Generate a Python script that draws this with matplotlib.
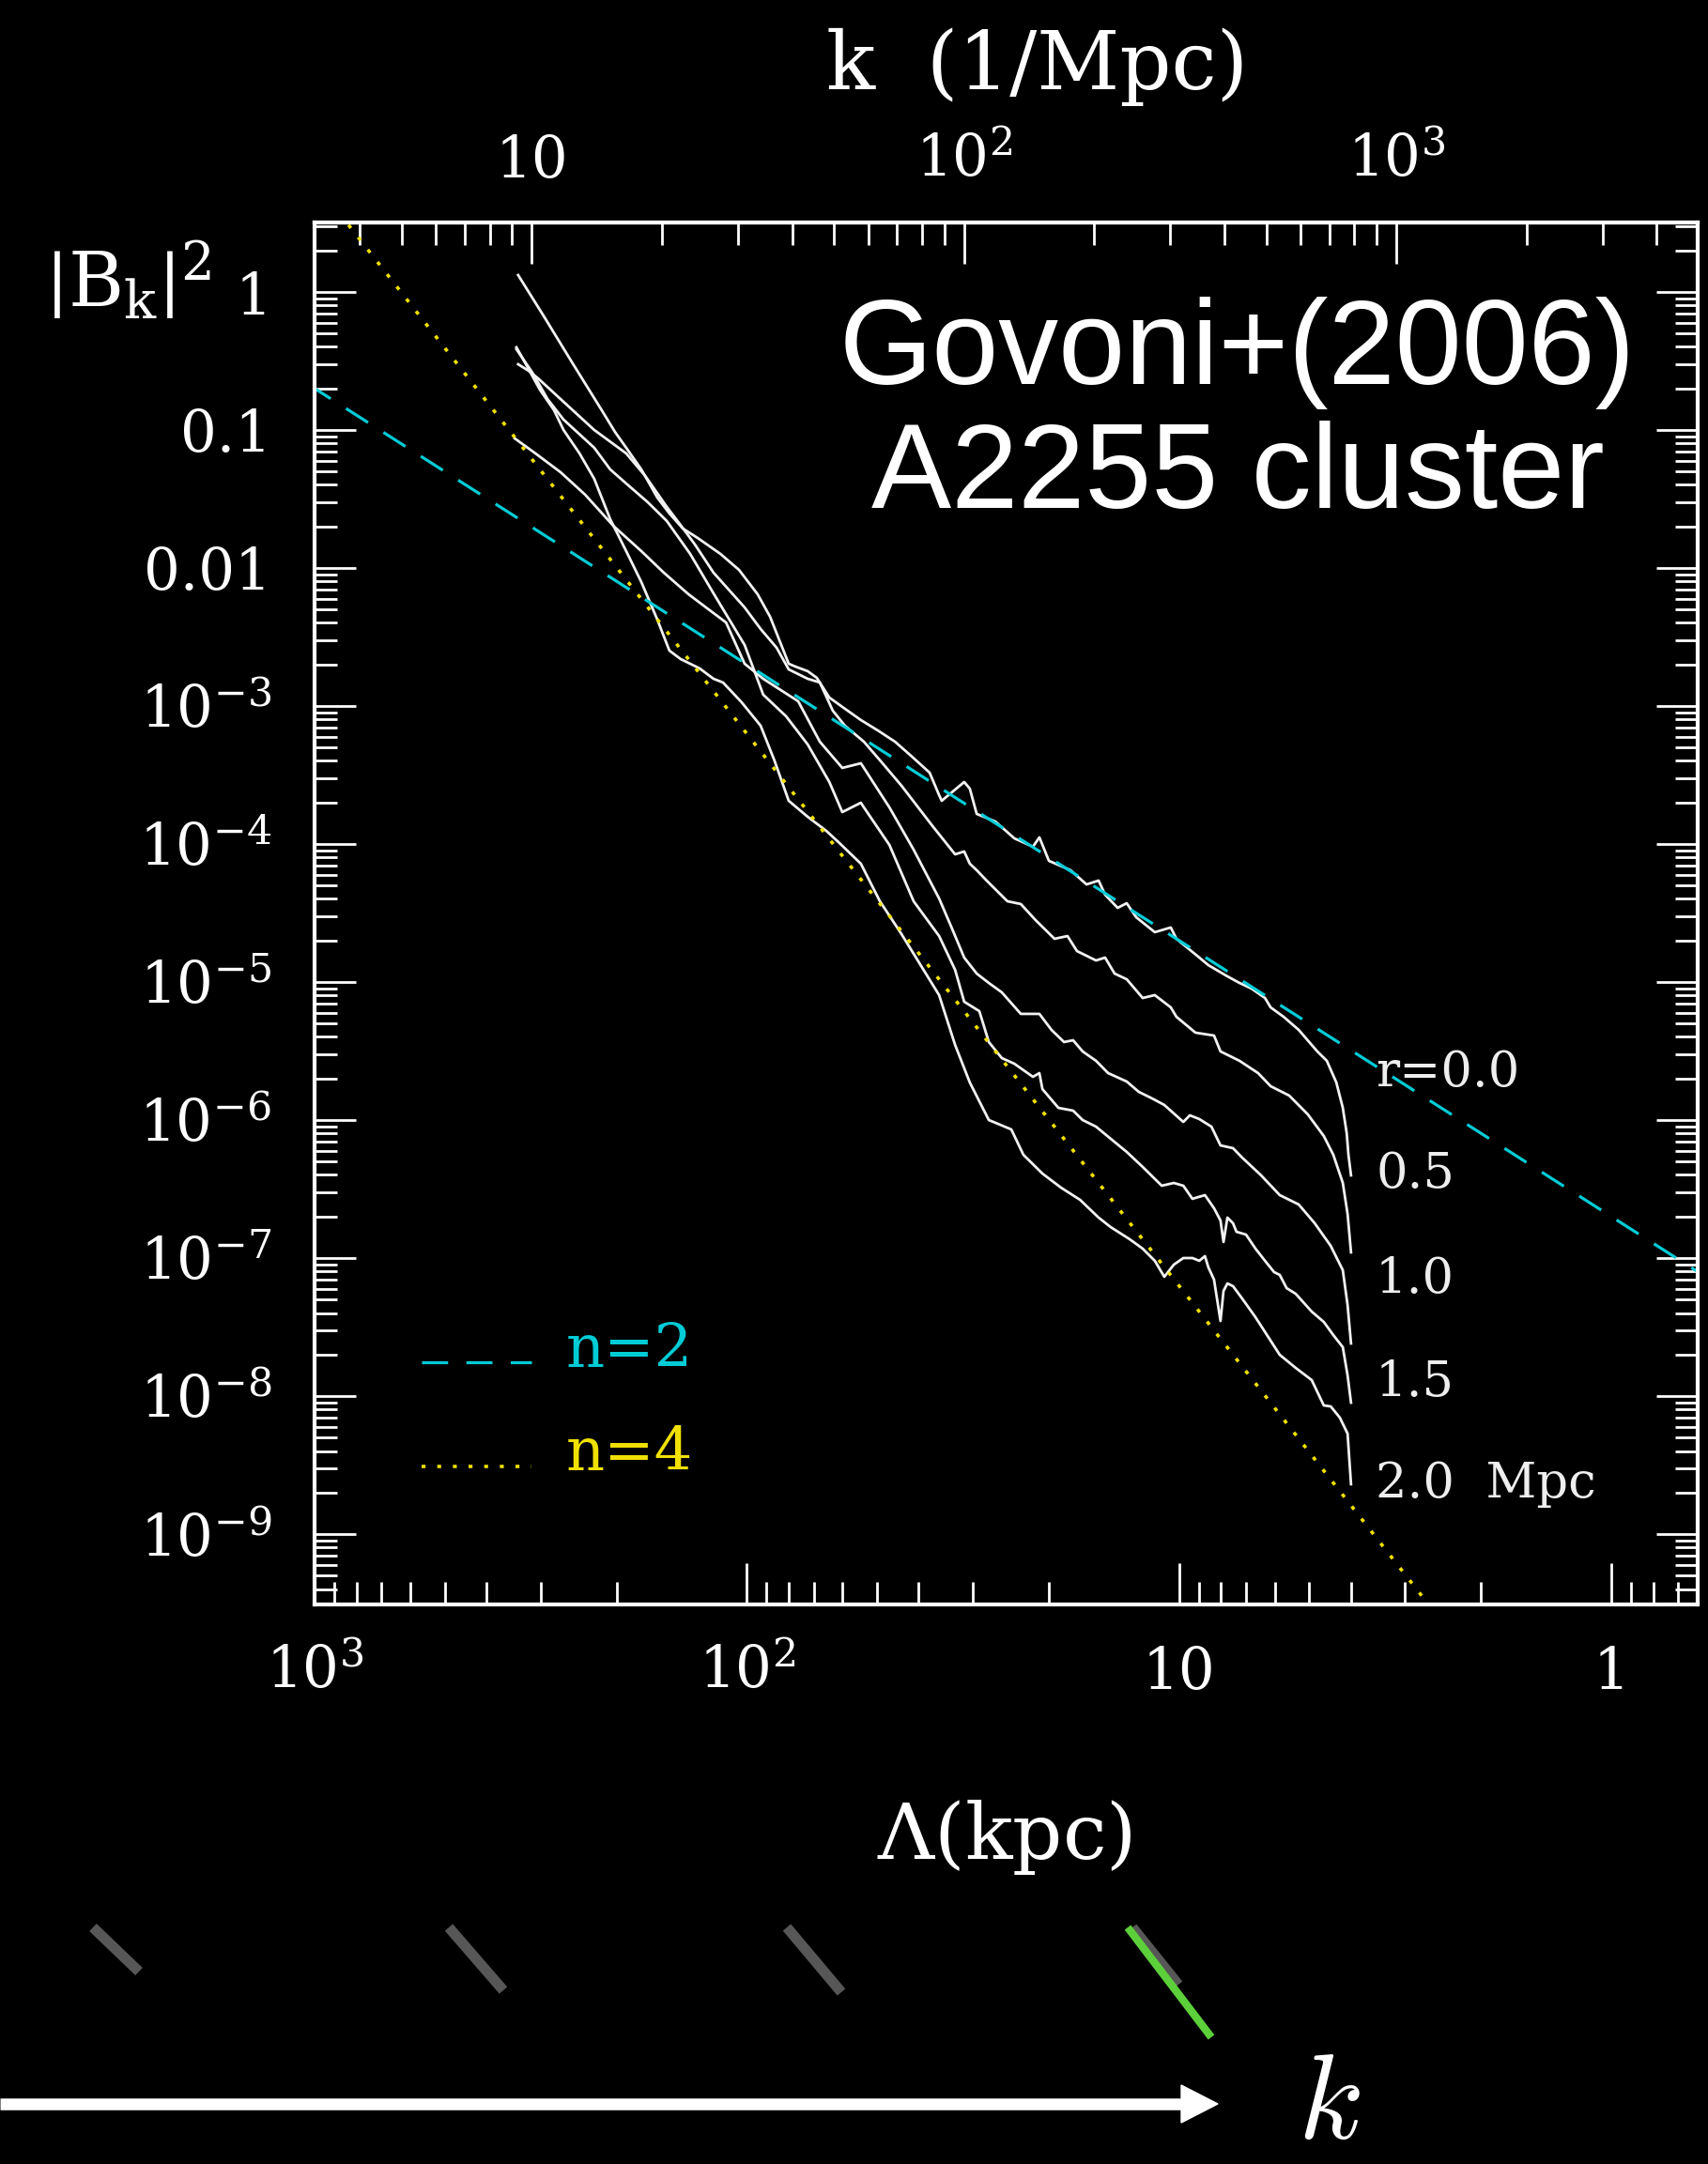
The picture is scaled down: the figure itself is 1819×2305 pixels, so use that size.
import numpy as np
import matplotlib
matplotlib.use('Agg')
import matplotlib.pyplot as plt
from matplotlib.lines import Line2D
from matplotlib.patches import Polygon
from matplotlib.ticker import FixedLocator, FixedFormatter, LogLocator, NullFormatter

plt.rcParams['font.family'] = ['DejaVu Serif']
plt.rcParams['mathtext.fontset'] = 'dejavuserif'
plt.rcParams['lines.scale_dashes'] = False

# radius of each simulated spectrum (Mpc)
radii = [0.0, 0.5, 1.0, 1.5, 2.0]
radius_labels = ['r=0.0', '0.5', '1.0', '1.5', '2.0  Mpc']

# spectra: log10 of scale Lambda (kpc) and log10 |B_k|^2
loglam_r00 = [2.529, 2.468, 2.403, 2.337, 2.305, 2.279, 2.244, 2.207, 2.179, 2.148,
              2.114, 2.061, 2.018, 1.975, 1.946, 1.903, 1.888, 1.859, 1.838, 1.809,
              1.773, 1.736, 1.697, 1.657, 1.620, 1.577, 1.555, 1.549, 1.497, 1.484,
              1.468, 1.425, 1.381, 1.338, 1.323, 1.301, 1.251, 1.214, 1.186, 1.171,
              1.142, 1.121, 1.099, 1.056, 1.019, 1.006, 0.953, 0.932, 0.888, 0.860,
              0.832, 0.801, 0.788, 0.758, 0.723, 0.680, 0.658, 0.636, 0.621, 0.612,
              0.608, 0.602]
logb_r00 = [0.122, -0.184, -0.517, -0.850, -1.014, -1.129, -1.286, -1.490, -1.605, -1.714,
            -1.782, -1.898, -2.014, -2.190, -2.354, -2.694, -2.714, -2.748, -2.796, -2.939,
            -3.020, -3.102, -3.177, -3.259, -3.361, -3.483, -3.646, -3.687, -3.551, -3.599,
            -3.782, -3.837, -3.959, -4.020, -3.952, -4.122, -4.190, -4.293, -4.265, -4.367,
            -4.463, -4.429, -4.531, -4.639, -4.605, -4.687, -4.823, -4.878, -4.959, -5.007,
            -5.048, -5.116, -5.184, -5.252, -5.347, -5.503, -5.571, -5.728, -5.912, -6.095,
            -6.252, -6.401]

loglam_r05 = [2.529, 2.505, 2.483, 2.424, 2.353, 2.279, 2.235, 2.185, 2.157, 2.120,
              2.077, 2.005, 1.968, 1.931, 1.903, 1.859, 1.831, 1.801, 1.773, 1.729,
              1.686, 1.642, 1.570, 1.518, 1.497, 1.484, 1.468, 1.447, 1.397, 1.366,
              1.332, 1.288, 1.258, 1.236, 1.192, 1.171, 1.149, 1.121, 1.084, 1.056,
              1.019, 1.006, 0.962, 0.919, 0.904, 0.860, 0.817, 0.788, 0.745, 0.702,
              0.665, 0.643, 0.621, 0.610, 0.602]
logb_r05 = [-0.524, -0.571, -0.626, -0.796, -1.000, -1.170, -1.333, -1.558, -1.673, -1.830,
            -2.034, -2.286, -2.442, -2.578, -2.735, -2.803, -2.830, -3.034, -3.143, -3.259,
            -3.415, -3.578, -3.871, -4.075, -4.054, -4.143, -4.190, -4.259, -4.415, -4.435,
            -4.551, -4.687, -4.667, -4.776, -4.844, -4.823, -4.939, -4.980, -5.116, -5.095,
            -5.184, -5.252, -5.367, -5.388, -5.503, -5.571, -5.660, -5.755, -5.823, -5.959,
            -6.116, -6.252, -6.456, -6.680, -6.959]

loglam_r10 = [2.537, 2.489, 2.431, 2.374, 2.309, 2.244, 2.192, 2.135, 2.077, 2.048,
              2.005, 1.962, 1.881, 1.831, 1.779, 1.736, 1.729, 1.670, 1.614, 1.555,
              1.527, 1.497, 1.468, 1.440, 1.410, 1.366, 1.323, 1.295, 1.266, 1.245,
              1.223, 1.192, 1.164, 1.121, 1.093, 1.062, 1.034, 0.990, 0.975, 0.953,
              0.925, 0.904, 0.875, 0.854, 0.810, 0.767, 0.723, 0.686, 0.649, 0.621,
              0.610, 0.602]
logb_r10 = [-1.061, -1.170, -1.306, -1.469, -1.694, -1.878, -2.034, -2.190, -2.327, -2.395,
            -2.694, -2.803, -2.966, -3.259, -3.449, -3.415, -3.449, -3.735, -4.041, -4.395,
            -4.599, -4.823, -4.939, -5.007, -5.075, -5.231, -5.231, -5.347, -5.435, -5.422,
            -5.503, -5.571, -5.660, -5.721, -5.796, -5.844, -5.891, -6.014, -5.966, -5.993,
            -6.048, -6.184, -6.204, -6.272, -6.401, -6.544, -6.612, -6.748, -6.912, -7.088,
            -7.340, -7.619]

loglam_r15 = [2.533, 2.496, 2.461, 2.424, 2.353, 2.316, 2.279, 2.229, 2.185, 2.131,
              2.077, 2.005, 1.962, 1.909, 1.859, 1.809, 1.779, 1.736, 1.729, 1.670,
              1.614, 1.555, 1.518, 1.497, 1.462, 1.440, 1.410, 1.381, 1.338, 1.323,
              1.316, 1.279, 1.245, 1.223, 1.192, 1.158, 1.121, 1.084, 1.040, 1.012,
              0.990, 0.969, 0.940, 0.919, 0.904, 0.897, 0.888, 0.875, 0.867, 0.845,
              0.823, 0.801, 0.780, 0.767, 0.751, 0.730, 0.693, 0.665, 0.643, 0.621,
              0.610, 0.602]
logb_r15 = [-0.415, -0.585, -0.776, -0.925, -1.129, -1.286, -1.388, -1.524, -1.660, -1.898,
            -2.184, -2.558, -2.918, -3.075, -3.279, -3.551, -3.769, -3.701, -3.735, -4.007,
            -4.415, -4.667, -4.912, -5.143, -5.211, -5.435, -5.551, -5.592, -5.687, -5.660,
            -5.776, -5.912, -5.932, -6.000, -6.048, -6.136, -6.231, -6.340, -6.476, -6.456,
            -6.476, -6.571, -6.544, -6.639, -6.728, -6.884, -6.707, -6.748, -6.810, -6.830,
            -6.932, -7.020, -7.102, -7.122, -7.218, -7.259, -7.388, -7.463, -7.558, -7.646,
            -7.850, -8.048]

loglam_r20 = [2.533, 2.511, 2.479, 2.446, 2.424, 2.387, 2.353, 2.316, 2.279, 2.244,
              2.207, 2.179, 2.153, 2.109, 2.077, 2.055, 2.012, 1.968, 1.936, 1.903,
              1.859, 1.816, 1.788, 1.736, 1.692, 1.642, 1.555, 1.518, 1.484, 1.440,
              1.388, 1.360, 1.316, 1.273, 1.229, 1.186, 1.158, 1.114, 1.084, 1.056,
              1.034, 1.012, 0.990, 0.969, 0.953, 0.940, 0.932, 0.919, 0.904, 0.897,
              0.888, 0.875, 0.854, 0.823, 0.795, 0.767, 0.730, 0.693, 0.665, 0.649,
              0.628, 0.610, 0.602]
logb_r20 = [-0.401, -0.524, -0.707, -0.857, -1.000, -1.170, -1.354, -1.646, -1.878, -2.102,
            -2.374, -2.599, -2.660, -2.728, -2.803, -2.830, -2.973, -3.143, -3.395, -3.687,
            -3.803, -3.905, -3.986, -4.143, -4.415, -4.653, -5.095, -5.456, -5.728, -6.000,
            -6.068, -6.252, -6.388, -6.490, -6.578, -6.707, -6.776, -6.864, -6.932, -7.020,
            -7.136, -7.048, -7.000, -7.000, -7.020, -6.986, -7.068, -7.156, -7.456, -7.238,
            -7.184, -7.204, -7.293, -7.429, -7.565, -7.701, -7.796, -7.884, -8.068, -8.075,
            -8.156, -8.272, -8.639]

spectra = [(loglam_r00, logb_r00), (loglam_r05, logb_r05), (loglam_r10, logb_r10),
           (loglam_r15, logb_r15), (loglam_r20, logb_r20)]

# power laws |B_k|^2 = A (Lambda / 1 Mpc)^n
slopes = [2, 4]
amps = [0.2, 6.3]
slope_labels = ['n=2', 'n=4']
slope_colors = ['#00ccd6', '#f0e000']

lam_ticks = [1000, 100, 10, 1]
lam_ticklabels = [r'$10^3$', r'$10^2$', '10', '1']
k_ticks = [10, 100, 1000]
k_ticklabels = ['10', r'$10^2$', r'$10^3$']
b_ticks = [1e-9, 1e-8, 1e-7, 1e-6, 1e-5, 1e-4, 1e-3, 0.01, 0.1, 1]
b_ticklabels = [r'$10^{-9}$', r'$10^{-8}$', r'$10^{-7}$', r'$10^{-6}$', r'$10^{-5}$',
                r'$10^{-4}$', r'$10^{-3}$', '0.01', '0.1', '1']

W, H = 1819, 2305


def fx(x):
    return x / W


def fy(y):
    return 1 - y / H


fig = plt.figure(figsize=(W / 100, H / 100), dpi=100, facecolor='black')
ax = fig.add_axes([fx(335), fy(1709), (1808 - 335) / W, (1709 - 236.7) / H],
                  facecolor='black')

for loglam, logb in spectra:
    ax.plot(10 ** np.array(loglam), 10 ** np.array(logb), color='#f2f2f2', lw=2.0)

lam = np.logspace(3.1, -0.3, 300)
ax.plot(lam, amps[0] * (lam / 1000) ** slopes[0], color=slope_colors[0], lw=2.3,
        dashes=(20, 14))
ax.plot(lam, amps[1] * (lam / 1000) ** slopes[1], color=slope_colors[1], lw=2.6,
        dashes=(3, 9))

ax.set_xscale('log')
ax.set_yscale('log')
ax.set_xlim(1000, 10 ** -0.2)
ax.set_ylim(10 ** -9.51, 10 ** 0.505)

ax.xaxis.set_major_locator(FixedLocator(lam_ticks))
ax.xaxis.set_major_formatter(FixedFormatter(lam_ticklabels))
ax.xaxis.set_minor_locator(LogLocator(base=10, subs=np.arange(2, 10), numticks=100))
ax.xaxis.set_minor_formatter(NullFormatter())
ax.yaxis.set_major_locator(FixedLocator(b_ticks))
ax.yaxis.set_major_formatter(FixedFormatter(b_ticklabels))
ax.yaxis.set_minor_locator(LogLocator(base=10, subs=np.arange(2, 10), numticks=100))
ax.yaxis.set_minor_formatter(NullFormatter())

ax.tick_params(which='both', direction='in', colors='white', width=2,
               top=False, right=True, bottom=True, left=True)
ax.tick_params(which='major', length=32)
ax.tick_params(which='minor', length=17)
ax.tick_params(axis='x', which='major', labelsize=44, pad=30)
ax.tick_params(axis='y', which='major', labelsize=44, pad=33)
for sp in ax.spines.values():
    sp.set_color('white')
    sp.set_linewidth(3)

secax = ax.secondary_xaxis('top', functions=(lambda x: np.pi * 1e3 / x,
                                             lambda x: np.pi * 1e3 / x))
secax.xaxis.set_major_locator(FixedLocator(k_ticks))
secax.xaxis.set_major_formatter(FixedFormatter(k_ticklabels))
secax.xaxis.set_minor_locator(LogLocator(base=10, subs=np.arange(2, 10), numticks=100))
secax.xaxis.set_minor_formatter(NullFormatter())
secax.tick_params(which='both', direction='in', colors='white', width=2)
secax.tick_params(which='major', length=32, labelsize=44, pad=26)
secax.tick_params(which='minor', length=17)
secax.spines['top'].set_color('white')
secax.spines['top'].set_linewidth(3)

# legend for the two power laws
ax.plot([0.0774, 0.1568], [0.1752, 0.1752], transform=ax.transAxes,
        color=slope_colors[0], lw=2.3, dashes=(20, 14))
ax.plot([0.0774, 0.1568], [0.0998, 0.0998], transform=ax.transAxes,
        color=slope_colors[1], lw=2.6, dashes=(3, 9))
ax.text(0.182, 0.1718, slope_labels[0], transform=ax.transAxes, color=slope_colors[0],
        fontsize=46, va='baseline')
ax.text(0.182, 0.0971, slope_labels[1], transform=ax.transAxes, color=slope_colors[1],
        fontsize=46, va='baseline')

# radius labels at the end of each spectrum
label_y = [1142, 1251, 1362, 1472, 1581]
for txt, yy in zip(radius_labels, label_y):
    fig.text(fx(1465), fy(yy), txt, color='#eeeeee', fontsize=38, va='center')

fig.text(fx(1105), fy(95), 'k  (1/Mpc)', color='white', fontsize=62,
         ha='center', va='baseline')
fig.text(fx(1070), fy(1980), r'$\Lambda$(kpc)', color='white', fontsize=60,
         ha='center', va='baseline')
fig.text(fx(48), fy(299), r'$\left|\mathrm{B}_{\mathrm{k}}\right|^{2}$', color='white',
         fontsize=58, ha='left', va='center')

fig.text(fx(1318), fy(409), 'Govoni+(2006)', color='white', fontsize=92,
         family='Liberation Sans', ha='center', va='baseline')
fig.text(fx(1318), fy(541), 'A2255 cluster', color='white', fontsize=92,
         family='Liberation Sans', ha='center', va='baseline')

# scale markers and k arrow underneath
slashes = [((99, 2053), (148, 2100)), ((478, 2053), (536, 2120)),
           ((838, 2053), (896, 2122)), ((1206, 2053), (1255, 2114))]
for (x0, y0), (x1, y1) in slashes:
    fig.add_artist(Line2D([fx(x0), fx(x1)], [fy(y0), fy(y1)], transform=fig.transFigure,
                          color='#575757', lw=8, solid_capstyle='butt'))
fig.add_artist(Line2D([fx(1201), fx(1290)], [fy(2053), fy(2170)], transform=fig.transFigure,
                      color='#5ccf3a', lw=6, solid_capstyle='butt'))

fig.add_artist(Line2D([fx(0), fx(1262)], [fy(2241), fy(2241)], transform=fig.transFigure,
                      color='white', lw=9, solid_capstyle='butt'))
fig.add_artist(Polygon([(fx(1258), fy(2221)), (fx(1297), fy(2241)), (fx(1258), fy(2261))],
                       closed=True, transform=fig.transFigure, facecolor='white',
                       edgecolor='white', lw=1))
fig.text(fx(1382), fy(2278), r'$k$', color='white', fontsize=92, math_fontfamily='cm',
         va='baseline', ha='left')

fig.savefig('out.png', dpi=100, facecolor='black')
